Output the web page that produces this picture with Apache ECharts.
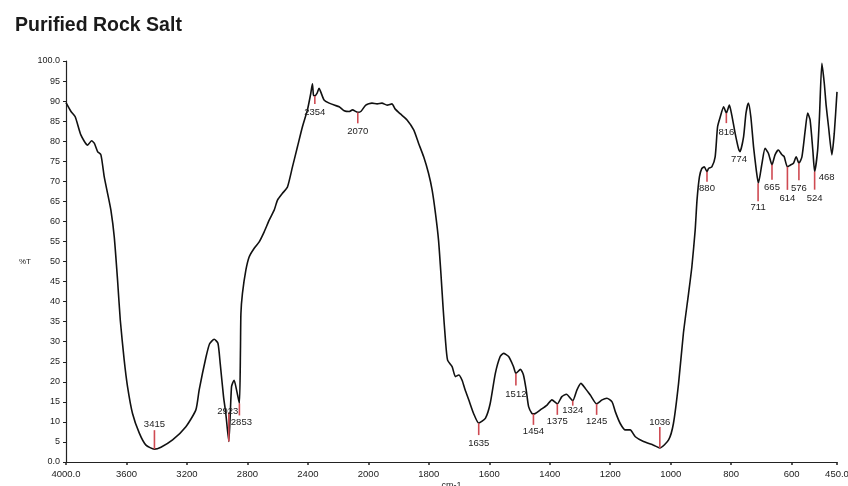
<!DOCTYPE html>
<html>
<head>
<meta charset="utf-8">
<script src="https://cdn.jsdelivr.net/npm/echarts@6/dist/echarts.min.js"></script>
<style>
  html, body { margin: 0; padding: 0; background: #fff; }
  #chart { width: 848px; height: 486px; }
</style>
</head>
<body>
<div id="chart"></div>
<script>
// spectrum: wavenumber (cm-1) and %T
const wavenumbers = [
  4000, 3967, 3939, 3901, 3857, 3831, 3813, 3791, 3769, 3747, 3725, 3703, 3681, 3659, 3641,
  3615, 3593, 3560, 3515, 3471, 3415, 3372, 3295, 3207, 3141, 3119, 3075, 3050, 3020, 2995,
  2980, 2958, 2943, 2923, 2905, 2888, 2872, 2853, 2846, 2843, 2833, 2810, 2788, 2755, 2722,
  2689, 2656, 2623, 2601, 2568, 2535, 2502, 2469, 2436, 2403, 2381, 2370, 2363, 2354, 2340,
  2326, 2315, 2293, 2259, 2226, 2193, 2160, 2127, 2105, 2070, 2050, 2017, 1988, 1971, 1955,
  1938, 1922, 1911, 1894, 1872, 1850, 1834, 1817, 1801, 1789, 1778, 1768, 1760, 1753, 1745,
  1738, 1723, 1712, 1701, 1690, 1680, 1668, 1652, 1635, 1613, 1597, 1580, 1564, 1553, 1536,
  1520, 1512, 1497, 1487, 1478, 1470, 1459, 1454, 1448, 1431, 1409, 1393, 1375, 1360, 1345,
  1324, 1310, 1297, 1283, 1266, 1245, 1227, 1211, 1194, 1183, 1167, 1150, 1134, 1117, 1090,
  1057, 1036, 1007, 991, 974, 958, 941, 930, 919, 913, 905, 897, 889, 880, 875,
  864, 853, 845, 836, 825, 816, 806, 798, 787, 776, 771, 759, 751, 743, 735,
  726, 717, 710, 698, 688, 677, 665, 655, 644, 632, 625, 614, 605, 594, 585,
  576, 566, 555, 547, 539, 530, 524, 514, 508, 500, 492, 486, 478, 467, 459, 450
];
const transmittance = [
  89.6, 87.4, 86.1, 81.5, 79.0, 80.1, 79.5, 77.4, 76.6, 71.1, 67.0, 62.8, 56.2, 45.4, 35.4,
  25.4, 18.8, 12.1, 7.2, 4.2, 3.2, 3.7, 5.5, 8.8, 13.0, 18.0, 26.0, 29.5, 30.6, 29.6,
  24.6, 16.3, 12.1, 5.1, 18.8, 20.4, 18.0, 14.6, 28.0, 37.0, 42.0, 47.9, 51.2, 53.3, 54.9,
  57.4, 60.3, 62.8, 65.3, 67.0, 68.6, 73.6, 78.6, 83.6, 87.8, 91.9, 94.3, 91.5, 91.3, 91.9,
  93.2, 92.3, 90.3, 89.5, 89.0, 88.6, 87.6, 87.4, 87.8, 87.2, 87.4, 89.0, 89.5, 89.3, 89.5,
  89.0, 89.3, 88.0, 86.8, 85.3, 82.8, 79.5, 76.1, 72.0, 67.8, 62.0, 55.4, 47.0, 38.7, 30.4,
  25.4, 23.8, 21.3, 21.7, 20.4, 18.0, 15.5, 12.1, 9.7, 10.9, 14.6, 22.1, 26.3, 27.1, 26.3,
  23.8, 22.1, 23.1, 21.7, 18.0, 13.8, 12.1, 12.0, 12.1, 13.0, 14.2, 15.5, 14.5, 16.3, 16.9,
  15.3, 18.0, 19.6, 18.4, 16.7, 14.5, 15.5, 15.9, 15.0, 12.5, 9.6, 8.0, 8.0, 6.3, 5.1,
  4.2, 3.5, 5.5, 9.6, 19.6, 32.1, 42.0, 48.7, 57.9, 65.3, 71.1, 73.2, 73.6, 72.4, 73.2,
  73.6, 76.1, 83.6, 86.1, 88.6, 87.0, 89.0, 86.5, 82.0, 78.2, 77.4, 81.1, 87.0, 89.5, 86.1,
  78.6, 72.8, 69.5, 74.5, 78.2, 77.0, 74.1, 76.6, 77.8, 76.6, 76.2, 73.6, 74.0, 74.5, 76.1,
  74.5, 76.1, 82.8, 87.0, 85.3, 77.8, 72.4, 77.8, 86.1, 99.4, 94.4, 89.0, 83.6, 76.6, 82.0, 92.3
];

// marked peaks
const peakWavenumbers = [3415, 2923, 2853, 2354, 2070, 1635, 1512, 1454, 1375, 1324, 1245, 1036,
  880, 816, 774, 711, 665, 614, 576, 524, 468];
const peakTransmittance = [3.2, 5.1, 14.6, 91.3, 87.2, 9.7, 22.1, 12.0, 14.5, 15.3, 14.5, 3.5,
  72.4, 87.0, 77.6, 69.5, 74.1, 73.6, 74.5, 72.4, 76.6];

const xTickValues = [4000, 3600, 3200, 2800, 2400, 2000, 1800, 1600, 1400, 1200, 1000, 800, 600, 450];
const xTickLabels = ['4000.0', '3600', '3200', '2800', '2400', '2000', '1800', '1600', '1400', '1200', '1000', '800', '600', '450.0'];
const yTickLabels = ['0.0', '5', '10', '15', '20', '25', '30', '35', '40', '45', '50',
  '55', '60', '65', '70', '75', '80', '85', '90', '95', '100.0'];

// red marker layout per peak: [line length px (+ down), label offset px, label dx]
const peakLayout = [
  [-19, -25, 0], [-29, -30, -1], [12, 19, 2], [8, 16, 0], [11, 19, 0], [12, 20, 0],
  [12, 21, 0], [11, 17, 0], [11, 18, 0], [5, 10, 0], [11, 18, 0], [-21, -26, 0],
  [10, 17, 0], [10, 19, 0], [0, 9, 0], [18, 24, 0], [15, 23, 0], [23, 32, 0],
  [17, 25, 0], [18, 27, 0], [0, 23, -5]
];

// the x axis runs at half scale above 2000 cm-1
function toAxis(w) { return w <= 2000 ? w : 2000 + (w - 2000) / 2; }

const font = 'Liberation Sans';
const chart = echarts.init(document.getElementById('chart'));

chart.setOption({
  animation: false,
  title: {
    text: 'Purified Rock Salt',
    left: 10,
    top: 11,
    textStyle: { fontFamily: font, fontSize: 19.5, fontWeight: 'bold', color: '#1a1a1a' }
  },
  grid: { left: 66, right: 11, top: 61, bottom: 24, outerBoundsMode: 'none' },
  xAxis: {
    type: 'value',
    inverse: true,
    min: 450,
    max: 3000,
    name: 'cm-1',
    nameLocation: 'middle',
    nameGap: 19,
    nameMoveOverlap: false,
    nameTextStyle: { fontFamily: font, fontSize: 9, color: '#222' },
    axisLine: { lineStyle: { color: '#222', width: 1.2 } },
    axisTick: { customValues: xTickValues.map(toAxis), length: 3, lineStyle: { color: '#222', width: 1.5 } },
    axisLabel: {
      customValues: xTickValues.map(toAxis),
      margin: 7,
      fontFamily: font,
      fontSize: 9.5,
      color: '#222',
      formatter: function (v) {
        const i = xTickValues.map(toAxis).indexOf(v);
        return i >= 0 ? xTickLabels[i] : '';
      }
    },
    splitLine: { show: false }
  },
  yAxis: {
    type: 'value',
    min: 0,
    max: 100,
    interval: 5,
    name: '%T',
    nameLocation: 'middle',
    nameGap: 35,
    nameRotate: 0,
    nameMoveOverlap: false,
    nameTextStyle: { fontFamily: font, fontSize: 8, color: '#222' },
    axisLine: { show: true, lineStyle: { color: '#222', width: 1.2 } },
    axisTick: { show: true, length: 3, lineStyle: { color: '#222' } },
    axisLabel: {
      margin: 6,
      fontFamily: font,
      fontSize: 9,
      color: '#222',
      formatter: function (v) { return yTickLabels[Math.round(v / 5)]; }
    },
    splitLine: { show: false }
  },
  series: [
    {
      type: 'line',
      data: wavenumbers.map((w, i) => [toAxis(w), transmittance[i]]),
      showSymbol: false,
      smooth: 0.2,
      lineStyle: { color: '#111', width: 1.6 },
      z: 3
    },
    {
      type: 'custom',
      data: peakWavenumbers.map((w, i) => [toAxis(w), peakTransmittance[i], w]),
      z: 4,
      renderItem: function (params, api) {
        const p = api.coord([api.value(0), api.value(1)]);
        const lay = peakLayout[params.dataIndex];
        const children = [];
        if (lay[0] !== 0) {
          children.push({
            type: 'line',
            shape: { x1: p[0], y1: p[1], x2: p[0], y2: p[1] + lay[0] },
            style: { stroke: '#cf4a52', lineWidth: 1.6 }
          });
        }
        children.push({
          type: 'text',
          x: p[0] + lay[2],
          y: p[1] + lay[1],
          style: {
            text: String(api.value(2)),
            fontFamily: font,
            fontSize: 9.5,
            fill: '#222',
            align: 'center',
            verticalAlign: 'middle'
          }
        });
        return { type: 'group', children: children };
      }
    }
  ]
});
</script>
</body>
</html>
